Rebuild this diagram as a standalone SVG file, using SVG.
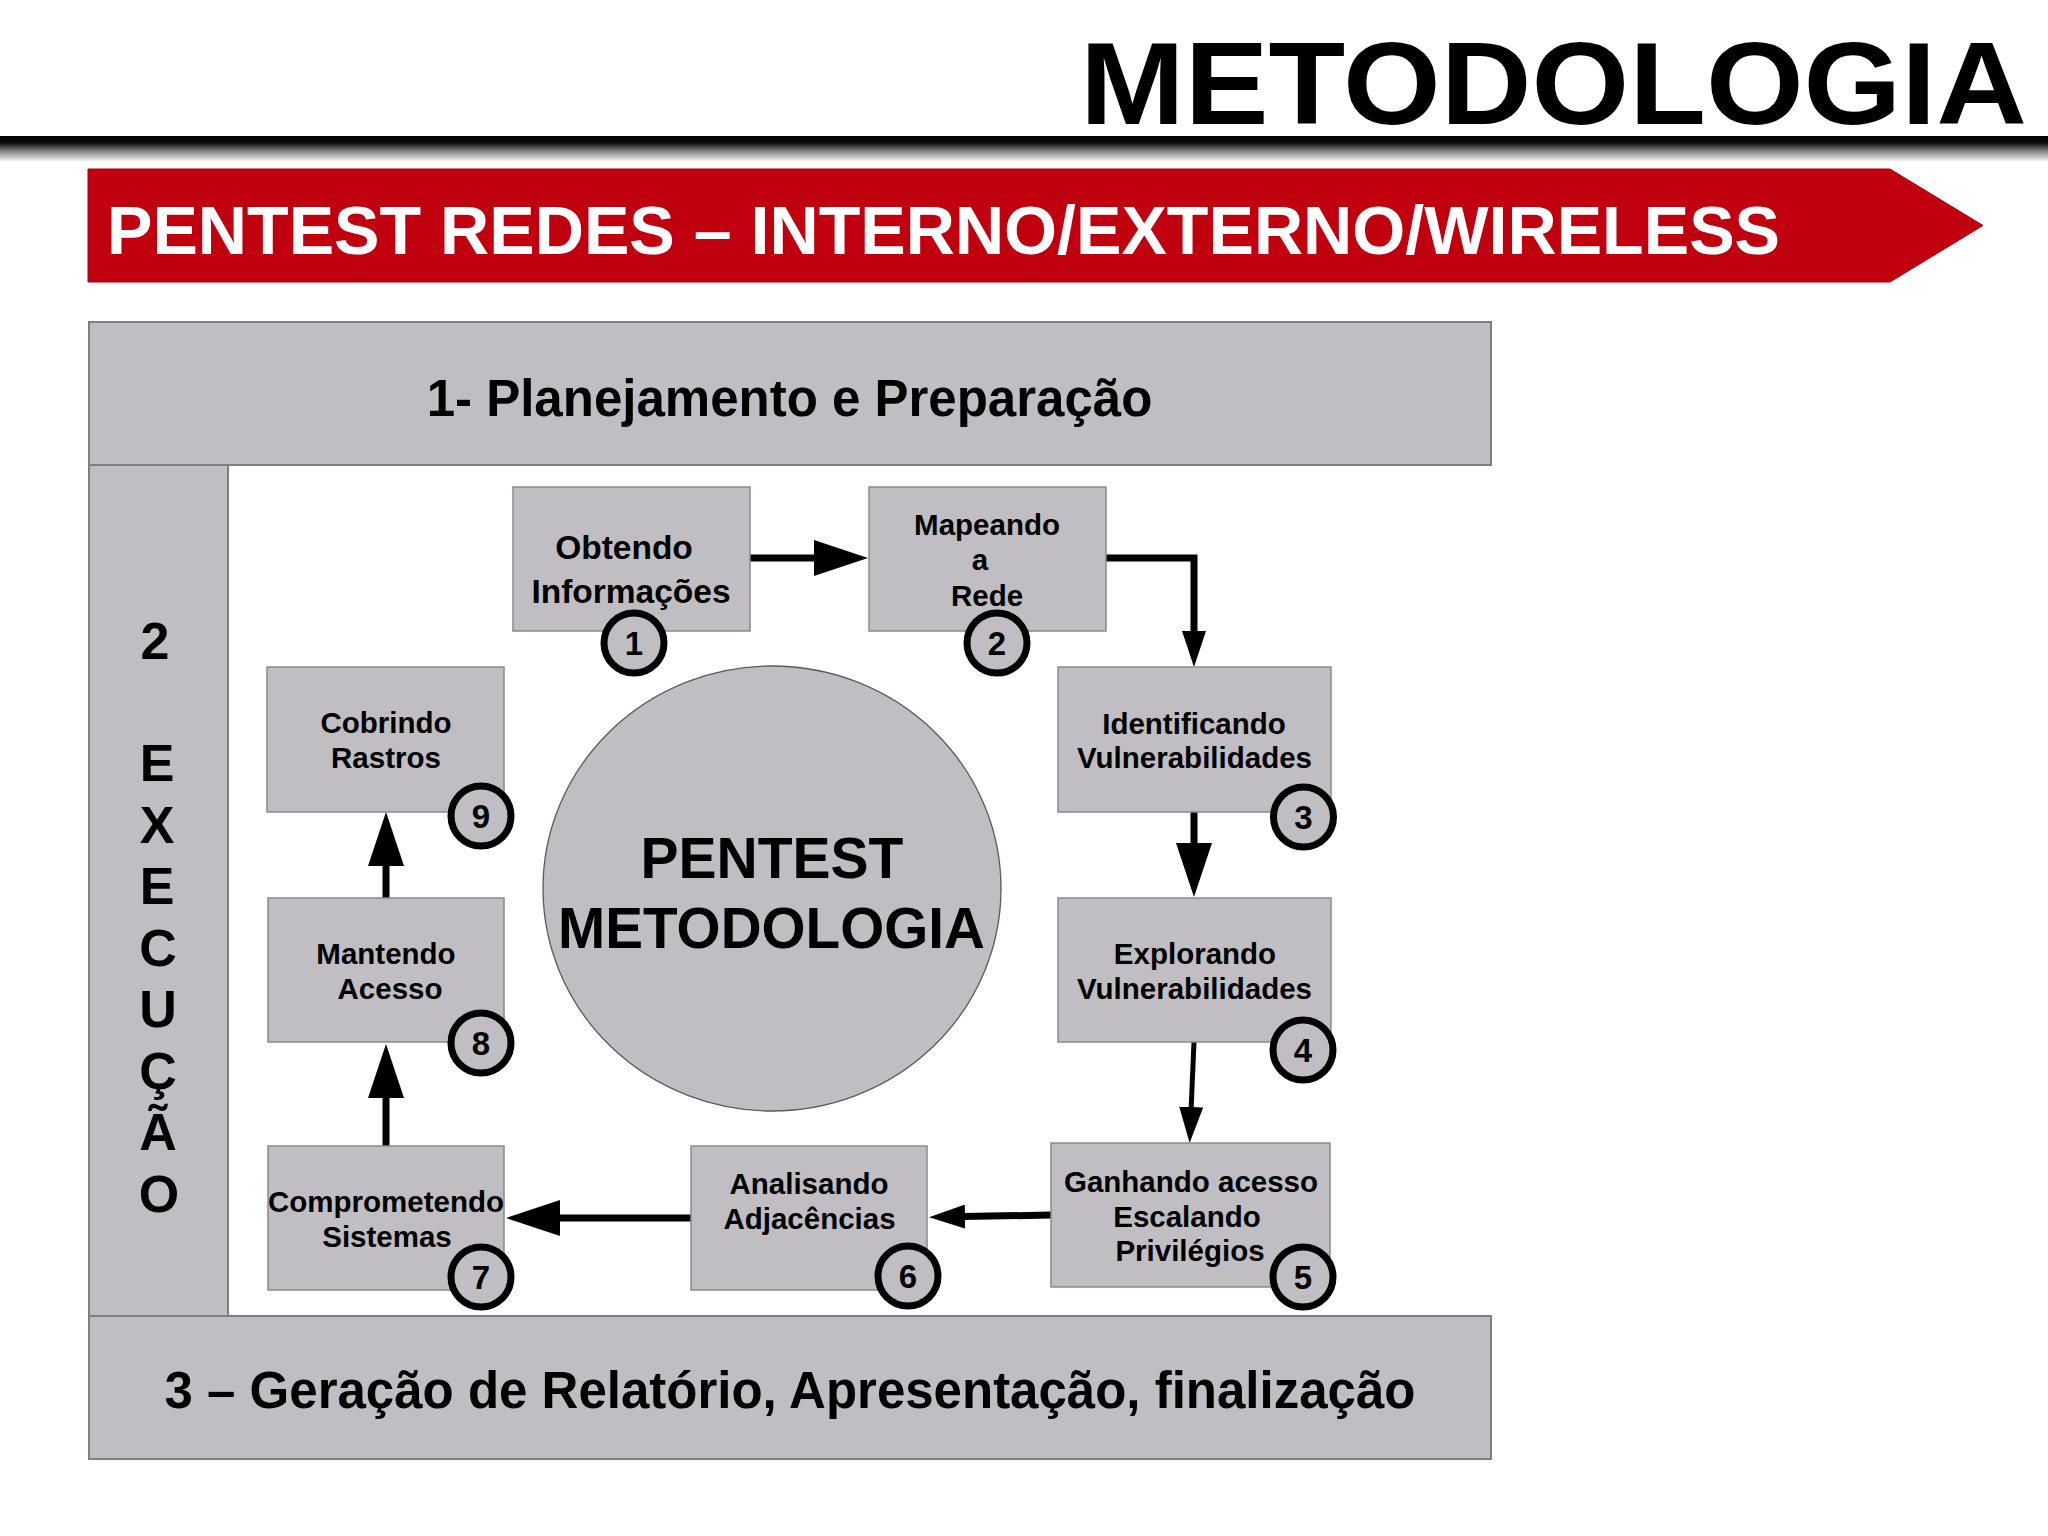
<svg xmlns="http://www.w3.org/2000/svg" width="2048" height="1536" viewBox="0 0 2048 1536">
  <style>
    .panel { fill: #C0BEC2; stroke: #7F7F7F; stroke-width: 2; }
    .box { fill: #C0BEC2; stroke: #8A8A8A; stroke-width: 1.5; }
    .badge { fill: #C0BEC2; stroke: #000; stroke-width: 7; }
    .t { font-family: "Liberation Sans", Arial, sans-serif; font-weight: bold; fill: #000; }
    .nt { font-size: 29.5px; text-anchor: middle; }
    .num { font-size: 33px; text-anchor: middle; }
    .sec { font-size: 51px; text-anchor: middle; }
    .vert { font-size: 52px; text-anchor: middle; }
    .conn { fill: none; stroke: #000; stroke-width: 7; stroke-linejoin: miter; }
  </style>
  <defs>
    <linearGradient id="rule" x1="0" y1="0" x2="0" y2="1">
      <stop offset="0" stop-color="#000"/>
      <stop offset="0.25" stop-color="#0a0a0a"/>
      <stop offset="0.6" stop-color="#8a8a8a"/>
      <stop offset="1" stop-color="#ffffff"/>
    </linearGradient>
    <marker id="ahL" viewBox="0 0 54 36" markerWidth="54" markerHeight="36" refX="2" refY="18" orient="auto" markerUnits="userSpaceOnUse">
      <path d="M0,0 L54,18 L0,36 Z" fill="#000"/>
    </marker>
    <marker id="ahS" viewBox="0 0 36 24" markerWidth="36" markerHeight="24" refX="2" refY="12" orient="auto" markerUnits="userSpaceOnUse">
      <path d="M0,0 L36,12 L0,24 Z" fill="#000"/>
    </marker>
  </defs>

  <rect x="0" y="0" width="2048" height="1536" fill="#ffffff"/>

  <!-- Header -->
  <g id="header">
    <text class="t" x="1080" y="124" font-size="116" textLength="947" lengthAdjust="spacingAndGlyphs">METODOLOGIA</text>
    <rect x="0" y="136" width="2048" height="26" fill="url(#rule)"/>
    <polygon points="88,169 1890,169 1983,225.5 1890,282 88,282" fill="#C1000F" stroke="#A8000E" stroke-width="1"/>
    <text class="t" x="107" y="254" font-size="69" fill="#ffffff" style="fill:#ffffff" textLength="1673" lengthAdjust="spacingAndGlyphs">PENTEST REDES – INTERNO/EXTERNO/WIRELESS</text>
  </g>

  <!-- Phase panels -->
  <g id="phase1">
    <rect class="panel" x="89" y="322" width="1402" height="143"/>
    <text class="t sec" x="789.5" y="416">1- Planejamento e Preparação</text>
  </g>
  <g id="phase2">
    <rect class="panel" x="89" y="465" width="139" height="851"/>
    <text class="t vert" x="155" y="659">2</text>
    <text class="t vert" x="157" y="781">E</text>
    <text class="t vert" x="157" y="842.6">X</text>
    <text class="t vert" x="157" y="904">E</text>
    <text class="t vert" x="158" y="965.7">C</text>
    <text class="t vert" x="158" y="1027">U</text>
    <text class="t vert" x="158" y="1089">Ç</text>
    <text class="t vert" x="158" y="1150.4">Ã</text>
    <text class="t vert" x="159" y="1212">O</text>
  </g>
  <g id="phase3">
    <rect class="panel" x="89" y="1316" width="1402" height="143"/>
    <text class="t sec" x="790" y="1408">3 – Geração de Relatório, Apresentação, finalização</text>
  </g>

  <!-- Center -->
  <g id="center">
    <ellipse cx="772" cy="888.5" rx="229" ry="222.5" fill="#C0BEC2" stroke="#5a5a5a" stroke-width="1.3"/>
    <text class="t" x="772" y="878" font-size="57" text-anchor="middle">PENTEST</text>
    <text class="t" x="771.5" y="948" font-size="58" text-anchor="middle" textLength="427" lengthAdjust="spacingAndGlyphs">METODOLOGIA</text>
  </g>

  <!-- Connectors -->
  <g id="connectors">
    <path class="conn" d="M750,558 H816" marker-end="url(#ahL)"/>
    <path class="conn" d="M1106,558 H1194 V633" marker-end="url(#ahS)"/>
    <path class="conn" d="M1194,812 V845" marker-end="url(#ahL)"/>
    <path class="conn" d="M1194,1042 L1191.1,1109" marker-end="url(#ahS)" style="stroke-width:5"/>
    <path class="conn" d="M1051,1215 L963,1216.6" marker-end="url(#ahS)"/>
    <path class="conn" d="M691,1218 H558" marker-end="url(#ahL)"/>
    <path class="conn" d="M386,1146 V1096" marker-end="url(#ahL)"/>
    <path class="conn" d="M386,898 V864" marker-end="url(#ahL)"/>
  </g>

  <!-- Nodes -->
  <g id="node1">
    <rect class="box" x="513" y="487" width="237" height="144"/>
    <text class="t" x="624" y="559" font-size="33.5" text-anchor="middle">Obtendo</text>
    <text class="t" x="631" y="603" font-size="33.5" text-anchor="middle">Informações</text>
    <circle class="badge" cx="634" cy="643" r="30"/>
    <text class="t num" x="634" y="655">1</text>
  </g>
  <g id="node2">
    <rect class="box" x="869" y="487" width="237" height="144"/>
    <text class="t nt" x="987" y="535">Mapeando</text>
    <text class="t nt" x="980" y="570">a</text>
    <text class="t nt" x="987" y="606">Rede</text>
    <circle class="badge" cx="997" cy="643" r="30"/>
    <text class="t num" x="997" y="655">2</text>
  </g>
  <g id="node3">
    <rect class="box" x="1058" y="667" width="273" height="145"/>
    <text class="t nt" x="1194" y="734">Identificando</text>
    <text class="t nt" x="1194.5" y="768">Vulnerabilidades</text>
    <circle class="badge" cx="1303.5" cy="817" r="30"/>
    <text class="t num" x="1303.5" y="829">3</text>
  </g>
  <g id="node4">
    <rect class="box" x="1058" y="898" width="273" height="144"/>
    <text class="t nt" x="1195" y="964">Explorando</text>
    <text class="t nt" x="1194.5" y="999">Vulnerabilidades</text>
    <circle class="badge" cx="1303" cy="1050" r="30"/>
    <text class="t num" x="1303" y="1062">4</text>
  </g>
  <g id="node5">
    <rect class="box" x="1051" y="1143" width="279" height="144"/>
    <text class="t nt" x="1191" y="1192">Ganhando acesso</text>
    <text class="t nt" x="1187" y="1227">Escalando</text>
    <text class="t nt" x="1190" y="1261">Privilégios</text>
    <circle class="badge" cx="1303" cy="1277" r="30"/>
    <text class="t num" x="1303" y="1289">5</text>
  </g>
  <g id="node6">
    <rect class="box" x="691" y="1146" width="236" height="144"/>
    <text class="t nt" x="809" y="1194">Analisando</text>
    <text class="t nt" x="809.5" y="1229">Adjacências</text>
    <circle class="badge" cx="908" cy="1276" r="30"/>
    <text class="t num" x="908" y="1288">6</text>
  </g>
  <g id="node7">
    <rect class="box" x="268" y="1146" width="236" height="144"/>
    <text class="t nt" x="386" y="1212">Comprometendo</text>
    <text class="t nt" x="387" y="1247">Sistemas</text>
    <circle class="badge" cx="481" cy="1277" r="30"/>
    <text class="t num" x="481" y="1289">7</text>
  </g>
  <g id="node8">
    <rect class="box" x="268" y="898" width="236" height="144"/>
    <text class="t nt" x="386" y="964">Mantendo</text>
    <text class="t nt" x="390" y="999">Acesso</text>
    <circle class="badge" cx="481" cy="1043" r="30"/>
    <text class="t num" x="481" y="1055">8</text>
  </g>
  <g id="node9">
    <rect class="box" x="267" y="667" width="237" height="145"/>
    <text class="t nt" x="386" y="733">Cobrindo</text>
    <text class="t nt" x="386" y="768">Rastros</text>
    <circle class="badge" cx="481" cy="816" r="30"/>
    <text class="t num" x="481" y="828">9</text>
  </g>
</svg>
